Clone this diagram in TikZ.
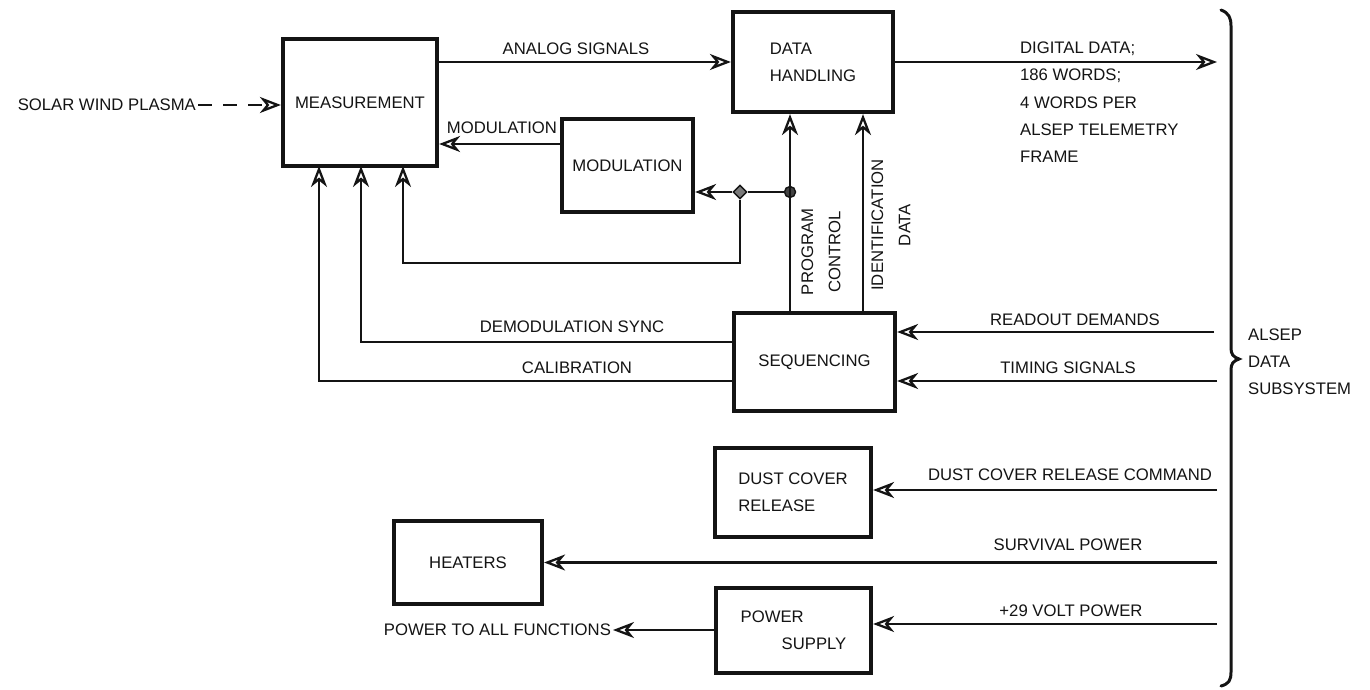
\documentclass[tikz,border=0pt]{standalone}
\usepackage{fontspec}
\setmainfont{Liberation Sans}
\usetikzlibrary{arrows.meta,calc,shapes.geometric}
\definecolor{swink}{HTML}{141414}
\definecolor{swpage}{HTML}{FFFFFF}
\definecolor{swjoint}{HTML}{7A7A7A}
\tikzset{
  swblock/.style={
    draw=swink,
    line width=2.4pt,
    fill=swpage,
    align=center,
    inner sep=2pt,
    font=\fontsize{9.5}{15.5}\selectfont,
    text=swink
  },
  swedge/.style={
    -{Stealth[open,length=4.2mm,width=3.2mm,inset=1.3mm,line width=1.3pt]},
    line width=1.5pt,
    color=swink
  },
  swline/.style={
    line width=1.5pt,
    color=swink
  },
  swdash/.style={
    swedge,
    dash pattern=on 2.8mm off 2.2mm
  },
  swlabel/.style={
    font=\fontsize{9.5}{15.5}\selectfont,
    text=swink,
    inner sep=1pt
  },
  swnote/.style={
    swlabel,
    align=left
  },
  swturned/.style={
    swlabel,
    align=center,
    rotate=90
  },
  swdot/.style={
    circle,
    draw=swink,
    fill=swink!80,
    line width=0.8pt,
    inner sep=0pt,
    minimum size=2.2mm
  },
  swknot/.style={
    diamond,
    draw=swink,
    fill=swjoint,
    line width=0.8pt,
    inner sep=0pt,
    minimum size=2.8mm
  },
  swbrace/.style={
    line width=1.7pt,
    color=swink,
    line cap=round
  }
}

\begin{document}
\begin{tikzpicture}[x=0.2mm,y=-0.2mm]
  \useasboundingbox[fill=swpage] (0,0) rectangle (1370,690);

  % blocks
  \node[swblock, minimum width=30.8mm, minimum height=25.4mm] (meas) at (360,102.5) {MEASUREMENT};
  \node[swblock, minimum width=32mm, minimum height=20mm, align=left] (handling) at (813,62) {DATA\\HANDLING};
  \node[swblock, minimum width=26.2mm, minimum height=18.6mm] (modul) at (627.5,165.5) {MODULATION};
  \node[swblock, minimum width=32.2mm, minimum height=19.6mm] (seq) at (814.5,362) {SEQUENCING};
  \node[swblock, minimum width=31.2mm, minimum height=17.8mm, align=left] (dust) at (793,492.5) {DUST COVER\\RELEASE};
  \node[swblock, minimum width=29.6mm, minimum height=16.6mm] (heaters) at (468,562.5) {HEATERS};
  \node[swblock, minimum width=31mm, minimum height=17mm, align=left] (psupply) at (793.5,630.5) {POWER\\\hspace*{8.2mm}SUPPLY};

  % free texts
  \node[swlabel, anchor=east] (solar) at (198,105) {SOLAR WIND PLASMA};
  \node[swlabel, anchor=east] (allfn) at (613,630) {POWER TO ALL FUNCTIONS};
  \node[swnote, anchor=north west] (digital) at (1018,40) {DIGITAL DATA;\\186 WORDS;\\4 WORDS PER\\ALSEP TELEMETRY\\FRAME};
  \node[swnote, anchor=west] (alsep) at (1246,362) {ALSEP\\DATA\\SUBSYSTEM};

  % junctions and free ends
  \node[swknot] (jmod) at (740,192) {};
  \node[swdot] (jprog) at (790,192) {};
  \coordinate (loopturn) at (740,263);
  \coordinate (idcol) at (863,0);
  \coordinate (measa) at (319,166);
  \coordinate (measb) at (361,166);
  \coordinate (measc) at (403,166);
  \coordinate (digout) at (1217,62);
  \coordinate (readin) at (1214,332);
  \coordinate (timein) at (1217,381);
  \coordinate (dustin) at (1217,490);
  \coordinate (survin) at (1217,562.5);
  \coordinate (voltin) at (1217,624);

  \draw[swdash] (solar.east) -- (solar.east -| meas.west);
  \draw[swedge] (meas.east |- handling.west) -- (handling.west);
  \draw[swedge] (handling.east) -- (digout);
  \draw[swedge] (modul.west |- 0,144) -- (meas.east |- 0,144);
  \draw[swline] (jprog) -- (jmod);
  \draw[swedge] (jmod) -- (jmod -| modul.east);
  \draw[swedge] (jmod) -- (loopturn) -| (measc);
  \draw[swedge] (seq.north -| jprog) -- (handling.south -| jprog);
  \draw[swedge] (seq.north -| idcol) -- (handling.south -| idcol);
  \draw[swedge] (seq.west |- 0,342) -| (measb);
  \draw[swedge] (seq.west |- 0,381) -| (measa);
  \draw[swedge] (readin) -- (readin -| seq.east);
  \draw[swedge] (timein) -- (timein -| seq.east);
  \draw[swedge] (dustin) -- (dustin -| dust.east);
  \draw[swedge] (survin) -- (heaters.east);
  \draw[swedge] (voltin) -- (voltin -| psupply.east);
  \draw[swedge] (allfn.east -| psupply.west) -- (allfn.east);

  % connector labels
  \node[swlabel] (analoglbl) at (576,49) {ANALOG SIGNALS};
  \node[swlabel] (modlbl) at (502,128) {MODULATION};
  \node[swlabel] (demodlbl) at (572,327) {DEMODULATION SYNC};
  \node[swlabel] (callbl) at (577,368) {CALIBRATION};
  \node[swturned] (proglbl) at (821,252) {PROGRAM\\CONTROL};
  \node[swturned] (identlbl) at (891,225) {IDENTIFICATION\\DATA};
  \node[swlabel] (readlbl) at (1075,320) {READOUT DEMANDS};
  \node[swlabel] (timelbl) at (1068,368) {TIMING SIGNALS};
  \node[swlabel] (dustlbl) at (1070,475) {DUST COVER RELEASE COMMAND};
  \node[swlabel] (survlbl) at (1068,545) {SURVIVAL POWER};
  \node[swlabel] (voltlbl) at (1071,611) {+29 VOLT POWER};

  % data subsystem brace
  \draw[swbrace] (1221,10) .. controls (1229,13) and (1231,18) .. (1231,26)
    -- (1231,348) .. controls (1231,354) and (1233,357) .. (1239,359)
    .. controls (1233,361) and (1231,364) .. (1231,370)
    -- (1231,672) .. controls (1231,680) and (1229,684) .. (1221,686);
\end{tikzpicture}
\end{document}
